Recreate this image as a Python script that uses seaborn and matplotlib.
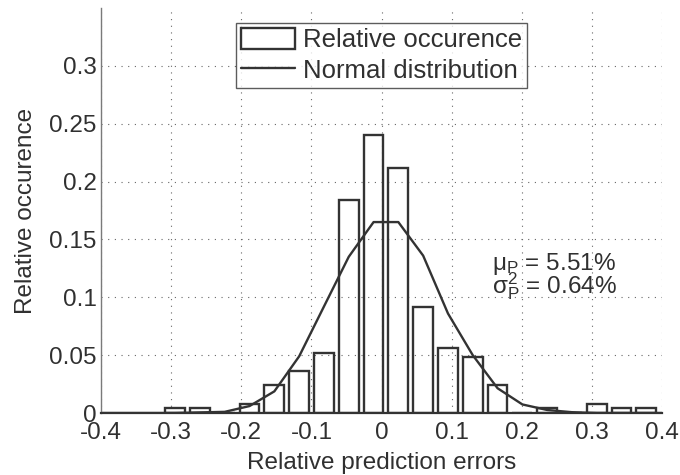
import numpy as np
import pandas as pd
import matplotlib
matplotlib.use("Agg")
import matplotlib.pyplot as plt
import seaborn as sns
from matplotlib.patches import Rectangle
from matplotlib.lines import Line2D
from matplotlib.ticker import FuncFormatter, AutoMinorLocator

# ---- data ----
bin_centers = [-0.2943, -0.2589, -0.2236, -0.1882, -0.1528, -0.1174, -0.0821,
               -0.0467, -0.0113, 0.0240, 0.0594, 0.0948, 0.1301, 0.1655,
               0.2009, 0.2363, 0.2716, 0.3070, 0.3424, 0.3777]
rel_occurrence = [0.004, 0.004, 0.0, 0.008, 0.024, 0.036, 0.052, 0.184, 0.240,
                  0.212, 0.092, 0.056, 0.048, 0.024, 0.0, 0.004, 0.0, 0.008,
                  0.004, 0.004]
curve_x = [-0.4] + bin_centers + [0.4]
curve_y = [0.0, 0.0, 0.0005, 0.001, 0.006, 0.0187, 0.049, 0.092, 0.135, 0.165,
           0.165, 0.136, 0.086, 0.050, 0.0214, 0.0074, 0.0026, 0.0007, 0.0,
           0.0, 0.0, 0.0]
x_ticks = [-0.4, -0.3, -0.2, -0.1, 0.0, 0.1, 0.2, 0.3, 0.4]
y_ticks = [0.0, 0.05, 0.1, 0.15, 0.2, 0.25, 0.3]
legend_labels = ["Relative occurence", "Normal distribution"]
annot_lines = ["\u03bc$_\\mathrm{P}$ = 5.51%", "\u03c3$_\\mathrm{P}^\\mathrm{2}$ = 0.64%"]

hist_df = pd.DataFrame({"err": bin_centers, "occ": rel_occurrence})
curve_df = pd.DataFrame({"x": curve_x, "y": curve_y})

sns.set_style("white")
plt.rcParams["font.family"] = ["Liberation Sans", "DejaVu Sans"]
plt.rcParams["mathtext.fontset"] = "custom"
plt.rcParams["mathtext.rm"] = "Liberation Sans"
plt.rcParams["mathtext.it"] = "Liberation Sans"
plt.rcParams["axes.unicode_minus"] = False

INK = "#333333"
TXT = "#303030"
FS = 17.5
LW = 1.7

fig = plt.figure(figsize=(6.8, 4.75), dpi=100)
ax = fig.add_axes([101 / 680, 1 - 413 / 475, 561 / 680, 405 / 475])

w = bin_centers[1] - bin_centers[0]
edges = [float(c - w / 2) for c in bin_centers] + [float(bin_centers[-1] + w / 2)]

sns.histplot(data=hist_df, x="err", weights="occ", bins=edges, shrink=0.8,
             fill=False, color=INK, linewidth=LW, ax=ax)
sns.lineplot(data=curve_df, x="x", y="y", color=INK, linewidth=LW, ax=ax,
             sort=False)

ax.set_xlim(-0.4, 0.4)
ax.set_ylim(0, 0.35)
ax.set_xticks(x_ticks)
ax.set_yticks(y_ticks)
fmt = FuncFormatter(lambda v, p: "%g" % round(v, 3))
ax.xaxis.set_major_formatter(fmt)
ax.yaxis.set_major_formatter(fmt)
ax.yaxis.set_minor_locator(AutoMinorLocator(7))

ax.grid(True, which="major", linestyle=(0, (1, 5)), color="#666666", linewidth=0.8)
sns.despine(ax=ax)
ax.spines["left"].set_color("#7a7a7a")
ax.spines["left"].set_linewidth(1.0)
ax.spines["bottom"].set_color(INK)
ax.spines["bottom"].set_linewidth(1.6)

ax.tick_params(axis="both", which="major", direction="in", length=4,
               color="#666666", labelsize=FS, labelcolor=TXT)
ax.tick_params(axis="x", which="major", pad=6.5)
ax.tick_params(axis="y", which="major", pad=3)
ax.tick_params(axis="y", which="minor", direction="in", length=2, color="#888888")

ax.set_xlabel("Relative prediction errors", fontsize=FS, color=TXT, labelpad=6)
ax.set_ylabel("Relative occurence", fontsize=FS, color=TXT, labelpad=9)

handles = [Rectangle((0, 0), 1, 1, facecolor="none", edgecolor=INK, linewidth=LW),
           Line2D([0], [0], color=INK, linewidth=LW)]
leg = ax.legend(handles, legend_labels, loc="upper center",
                bbox_to_anchor=(0.5, 0.9637), fontsize=18.5, frameon=True,
                fancybox=False, handlelength=2.1, handleheight=0.9,
                handletextpad=0.3, labelspacing=0.22, borderpad=0.2,
                borderaxespad=0)
leg.get_frame().set_edgecolor(INK)
leg.get_frame().set_linewidth(1.0)
for t in leg.get_texts():
    t.set_color(TXT)

ax.text(0.157, 0.129, annot_lines[0], fontsize=FS, color=TXT, va="center", ha="left")
ax.text(0.157, 0.110, annot_lines[1], fontsize=FS, color=TXT, va="center", ha="left")

fig.savefig("out.png", dpi=100)
